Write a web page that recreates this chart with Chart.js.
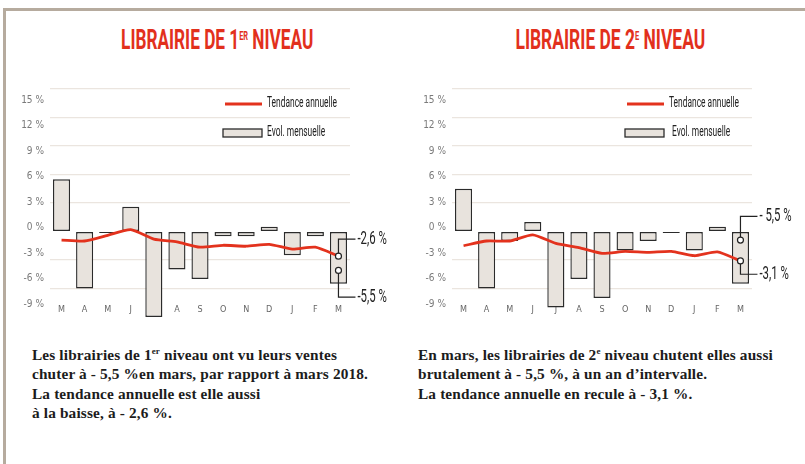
<!DOCTYPE html>
<html>
<head>
<meta charset="utf-8">
<script src="https://cdn.jsdelivr.net/npm/chart.js@4.4.1/dist/chart.umd.min.js"></script>
<style>
  body { margin: 0; width: 805px; height: 464px; background: #fff; position: relative; overflow: hidden; }
  .frame { position: absolute; left: 3px; top: 8px; width: 820px; height: 470px;
           border-top: 3px solid #b6ab9e; border-left: 3px solid #b6ab9e; }
  .title { position: absolute; top: 21px; width: 300px; text-align: center; color: #e2301c;
           font-family: 'Liberation Sans Narrow', Roboto, sans-serif; font-weight: 700;
           font-size: 28px; line-height: 30px; white-space: nowrap; }
  .title span.t { display: inline-block; transform-origin: center; }
  .title .sup { font-size: 12px; vertical-align: 9px; }
  .chart { position: absolute; top: 80px; }
  .note { position: absolute; top: 345px; font-family: 'Liberation Serif', serif; font-weight: 700;
          font-size: 15.3px; line-height: 19.3px; letter-spacing: 0.15px; color: #1c1c1c; white-space: nowrap; }
  .note sup { font-size: 9px; vertical-align: top; line-height: 12px; }
</style>
</head>
<body>
<div class="frame"></div>
<div class="title" style="left:61px"><span class="t" data-w="192">LIBRAIRIE DE 1<span class="sup">ER</span> NIVEAU</span></div>
<div class="title" style="left:458px"><span class="t" data-w="190">LIBRAIRIE DE 2<span class="sup">E</span> NIVEAU</span></div>

<canvas id="c1" class="chart" style="left:0" width="402" height="245"></canvas>
<canvas id="c2" class="chart" style="left:402px" width="402" height="245"></canvas>

<div class="note" style="left:32px">Les librairies de 1<sup>er</sup> niveau ont vu leurs ventes<br>chuter à - 5,5 %en mars, par rapport à mars 2018.<br>La tendance annuelle est elle aussi<br>à la baisse, à - 2,6 %.</div>
<div class="note" style="left:418px">En mars, les librairies de 2<sup>e</sup> niveau chutent elles aussi<br>brutalement à - 5,5 %, à un an d’intervalle.<br>La tendance annuelle en recule à - 3,1 %.</div>

<script>
// --- DATA ---
const months = ['M', 'A', 'M', 'J', 'J', 'A', 'S', 'O', 'N', 'D', 'J', 'F', 'M'];
const yTickLabels = [15, 12, 9, 6, 3, 0, -3, -6, -9];
const legendLabels = ['Tendance annuelle', 'Evol. mensuelle'];

// Librairie de 1er niveau
const monthly1 = [5.5, -6.0, -0.15, 2.6, -9.0, -4.0, -5.0, -0.5, -0.5, 0.5, -2.5, -0.5, -5.5];
const trend1 = [-0.9, -1.0, -0.4, 0.2, -0.8, -1.1, -1.65, -1.45, -1.55, -1.35, -1.85, -1.65, -2.6];
const callouts1 = [
  { text: '-2,6 %', at: -2.6, label: -0.8 },
  { text: '-5,5 %', at: -4.1, label: -6.9 }
];

// Librairie de 2e niveau
const monthly2 = [4.5, -6.0, -1.0, 1.0, -8.0, -5.0, -7.0, -2.0, -1.0, -0.15, -2.0, 0.5, -5.5];
const trend2 = [-1.5, -1.0, -1.0, -0.35, -1.25, -1.7, -2.3, -2.1, -2.2, -2.1, -2.55, -2.15, -3.1];
const callouts2 = [
  { text: '- 5,5 %', at: -0.9, label: 1.6 },
  { text: '-3,1 %', at: -3.1, label: -4.5 }
];

const RED = '#e3321d';
const BAR_FILL = '#e8e3dd';
const BAR_EDGE = '#2b2b2b';
const NARROW = "'Liberation Sans Narrow', 'DejaVu Sans Condensed', sans-serif";

// squeeze the titles to the width of the original condensed face
document.querySelectorAll('.title span.t').forEach(el => {
  el.style.transform = 'scaleX(' + (el.dataset.w / el.offsetWidth) + ')';
});

// condensed text on the canvas (the original uses a very narrow face)
function narrowText(ctx, text, x, y, size, sx, color) {
  ctx.save();
  ctx.font = size + 'px Roboto';
  ctx.fillStyle = color;
  ctx.textBaseline = 'middle';
  ctx.textAlign = 'left';
  ctx.translate(x, y);
  ctx.scale(sx, 1);
  ctx.fillText(text, 0, 0);
  ctx.restore();
}

// legend + callouts drawn inside the plot
const overlay = {
  id: 'overlay',
  afterDatasetsDraw(chart, args, opts) {
    const { ctx, chartArea, scales } = chart;
    const x0 = chartArea.left + 175;

    // legend
    ctx.save();
    ctx.strokeStyle = RED;
    ctx.lineWidth = 3;
    ctx.beginPath();
    ctx.moveTo(x0, chartArea.top + 15);
    ctx.lineTo(x0 + 37, chartArea.top + 15);
    ctx.stroke();
    ctx.fillStyle = BAR_FILL;
    ctx.strokeStyle = BAR_EDGE;
    ctx.lineWidth = 1.3;
    ctx.fillRect(x0 - 2, chartArea.top + 40, 39, 8);
    ctx.strokeRect(x0 - 2, chartArea.top + 40, 39, 8);
    ctx.restore();
    narrowText(ctx, legendLabels[0], x0 + 42, chartArea.top + 14, 15, 0.56, '#222');
    narrowText(ctx, legendLabels[1], x0 + 42 + opts.shift, chartArea.top + 43, 15, 0.56, '#222');

    // callouts on the last month
    const last = months.length - 1;
    const x = scales.x.getPixelForValue(last);
    ctx.save();
    ctx.strokeStyle = '#222';
    ctx.lineWidth = 1.2;
    opts.callouts.forEach(c => {
      const y = scales.y.getPixelForValue(c.at);
      const ly = scales.y.getPixelForValue(c.label);
      ctx.beginPath();
      ctx.moveTo(x, y);
      ctx.lineTo(x, ly);
      ctx.lineTo(x + 17, ly);
      ctx.stroke();
    });
    opts.callouts.forEach(c => {
      const y = scales.y.getPixelForValue(c.at);
      ctx.beginPath();
      ctx.arc(x, y, 3, 0, Math.PI * 2);
      ctx.fillStyle = '#fff';
      ctx.fill();
      ctx.stroke();
    });
    ctx.restore();
    opts.callouts.forEach(c => {
      const ly = scales.y.getPixelForValue(c.label);
      narrowText(ctx, c.text, x + 19, ly, 19, 0.6, '#222');
    });
  }
};

function makeChart(id, monthly, trend, callouts, shift) {
  return new Chart(document.getElementById(id), {
    data: {
      labels: months,
      datasets: [
        {
          type: 'line', label: legendLabels[0], data: trend, order: 0,
          borderColor: RED, borderWidth: 2.8, tension: 0.2, pointRadius: 0
        },
        {
          type: 'bar', label: legendLabels[1], data: monthly, order: 1,
          backgroundColor: BAR_FILL, borderColor: BAR_EDGE, borderWidth: 1.4,
          borderSkipped: false, barPercentage: 0.74, categoryPercentage: 1
        }
      ]
    },
    options: {
      responsive: false,
      animation: false,
      layout: { padding: { top: 9, bottom: 8, left: 0, right: 52 } },
      plugins: {
        legend: { display: false },
        tooltip: { enabled: false },
        overlay: { callouts: callouts, shift: shift }
      },
      scales: {
        x: {
          z: 1, // letters are printed over the bars
          grid: { display: false },
          border: { display: false },
          // month letters sit inside the plot, just above its bottom edge
          ticks: { color: '#666', font: { family: NARROW, size: 9 }, mirror: true, padding: 1.5, maxRotation: 0 },
          afterFit: s => { s.height = 0; s.paddingLeft = 0; s.paddingRight = 0; }
        },
        y: {
          min: -9, max: 15, position: 'left',
          ticks: { display: false, stepSize: 3 },
          grid: {
            drawTicks: false, lineWidth: 1.2,
            color: c => (c.tick.value === 0 || c.tick.value === -9) ? 'rgba(0,0,0,0)' : '#ebe5df'
          },
          border: { display: false },
          afterFit: s => { s.width = 0; }
        },
        // tick labels of the original are not aligned on its gridlines
        yl: {
          min: -10.5, max: 16.3, position: 'left',
          grid: { display: false, drawTicks: false },
          border: { display: false },
          afterBuildTicks: s => { s.ticks = yTickLabels.map(v => ({ value: v })); },
          ticks: { color: '#7a7a7a', font: { family: NARROW, size: 10 }, padding: 6, callback: v => v + ' %' },
          afterFit: s => { s.width = 50; s.paddingTop = 0; s.paddingBottom = 0; }
        }
      }
    },
    plugins: [overlay]
  });
}

makeChart('c1', monthly1, trend1, callouts1, 0);
makeChart('c2', monthly2, trend2, callouts2, 3);
</script>
</body>
</html>
